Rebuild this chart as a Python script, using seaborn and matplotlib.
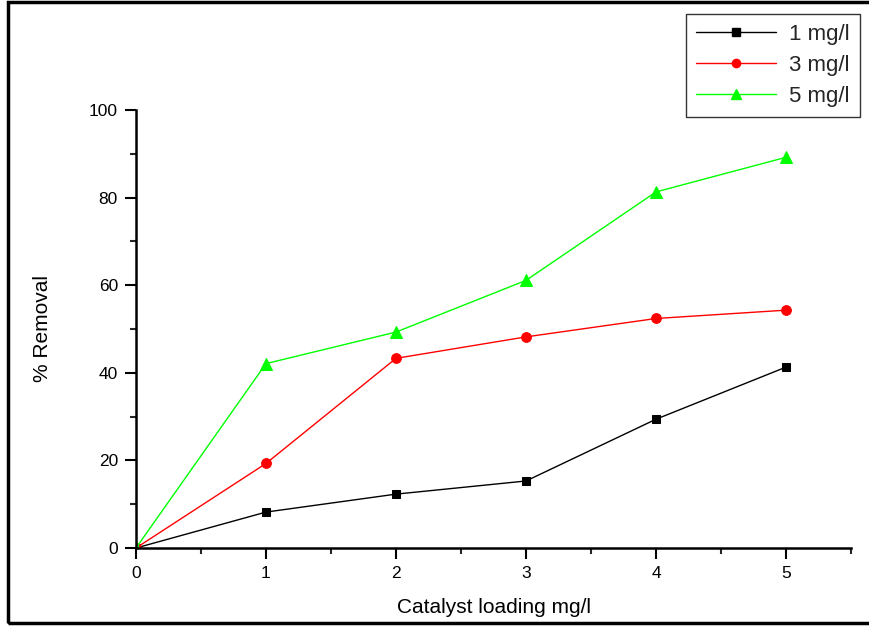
import numpy as np
import pandas as pd
import matplotlib
matplotlib.use("Agg")
import matplotlib.pyplot as plt
from matplotlib.ticker import MultipleLocator
from matplotlib.lines import Line2D
from matplotlib.patches import Rectangle
import seaborn as sns

catalyst = [0, 1, 2, 3, 4, 5]
removal_1 = [0, 8.2, 12.3, 15.3, 29.4, 41.3]
removal_3 = [0, 19.3, 43.3, 48.2, 52.4, 54.3]
removal_5 = [0, 42.1, 49.3, 61.1, 81.3, 89.2]
series_names = ["1 mg/l", "3 mg/l", "5 mg/l"]
colors = ["#000000", "#FF0000", "#00FF00"]
markers = ["s", "o", "^"]
msizes = [6, 7, 9]

sns.set_theme(style="white")
plt.rcParams['font.family'] = ['Liberation Sans', 'DejaVu Sans']

df = pd.DataFrame({
    "x": catalyst * 3,
    "y": removal_1 + removal_3 + removal_5,
    "series": sum([[n] * len(catalyst) for n in series_names], []),
})

fig = plt.figure(figsize=(8.69, 6.26), dpi=100)
ax = fig.add_axes([136/869, 1-548/626, (851-136)/869, (548-110)/626])

for name, c, m, ms in zip(series_names, colors, markers, msizes):
    sub = df[df.series == name]
    sns.lineplot(data=sub, x="x", y="y", ax=ax, color=c, marker=m, markersize=ms,
                 markeredgecolor=c, linewidth=1.0, legend=False)

ax.set_xlim(0, 5.5)
ax.set_ylim(0, 100)
ax.xaxis.set_major_locator(MultipleLocator(1))
ax.xaxis.set_minor_locator(MultipleLocator(0.5))
ax.yaxis.set_major_locator(MultipleLocator(20))
ax.yaxis.set_minor_locator(MultipleLocator(10))
ax.tick_params(which="major", direction="out", length=8, width=1.5, labelsize=12.5,
               bottom=True, left=True, colors="black", pad=5)
ax.tick_params(which="minor", direction="out", length=4, width=1.5, bottom=True, left=True)
for s in ["top", "right"]:
    ax.spines[s].set_visible(False)
for s in ["left", "bottom"]:
    ax.spines[s].set_linewidth(1.8)
    ax.spines[s].set_color("black")
ax.set_xlabel("Catalyst loading mg/l", fontsize=15, labelpad=12, color="black")
ax.set_ylabel("% Removal", fontsize=15, color="black")
ax.yaxis.set_label_coords(-0.118, 0.5)

handles = [Line2D([0], [0], color=c, marker=m, markersize=ms*0.85, linewidth=1.0)
           for c, m, ms in zip(colors, markers, msizes)]
leg = fig.legend(handles, series_names, loc="upper left",
                 bbox_to_anchor=(686/869, 1-14/626), frameon=True, fontsize=16,
                 handlelength=3.6, borderpad=0.45, labelspacing=0.45, fancybox=False,
                 handletextpad=0.6, borderaxespad=0)
leg.get_frame().set_edgecolor("black")
leg.get_frame().set_linewidth(1.0)

fig.patches.append(Rectangle((8/869, 3/626), 1.1, 1-5/626, transform=fig.transFigure,
                             fill=False, edgecolor="black", linewidth=2.5, figure=fig))

fig.savefig("out.png", dpi=100)
